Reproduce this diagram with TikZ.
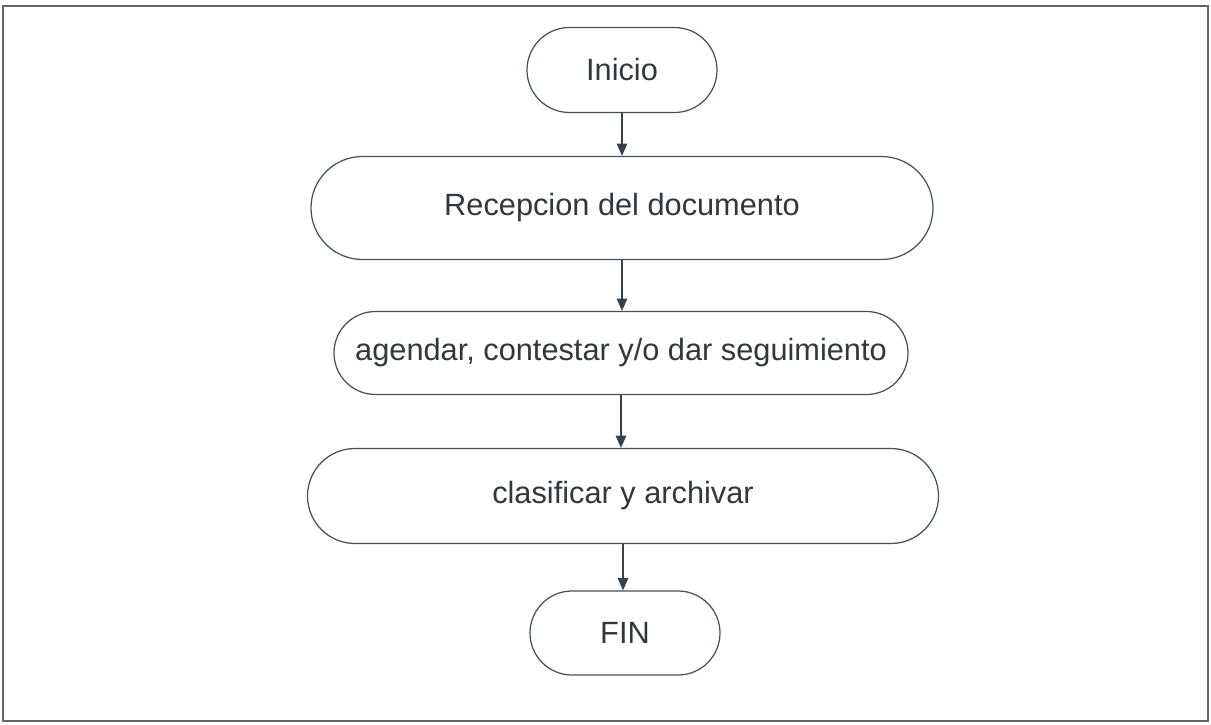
\documentclass[tikz,border=0pt]{standalone}
\usepackage{fontspec}
\setmainfont{Liberation Sans}
\usetikzlibrary{arrows.meta,shapes.misc}
\definecolor{edge}{RGB}{70,80,90}
\definecolor{txt}{RGB}{50,55,60}
\begin{document}
\begin{tikzpicture}[x=0.02cm,y=-0.02cm,
  term/.style={draw=edge,line width=0.7pt,rounded rectangle,inner sep=0pt,
    text=txt,font=\fontsize{17.5}{20}\selectfont},
  flow/.style={draw=edge!80!black,line width=0.7pt,-{Triangle[length=7pt,width=6pt]}}]
\useasboundingbox (0,0) rectangle (1211,724);
\draw[gray!80!black,line width=1pt] (3,6) rectangle (1208,721);
\node[term,minimum width=190*0.02cm,minimum height=85*0.02cm] (ini) at (622,70) {Inicio};
\node[term,minimum width=622*0.02cm,minimum height=103*0.02cm] (rec) at (622,208) {Recepcion del documento};
\node[term,minimum width=574*0.02cm,minimum height=83*0.02cm] (age) at (621,353) {agendar, contestar y/o dar seguimiento};
\node[term,minimum width=631*0.02cm,minimum height=95*0.02cm] (cla) at (623,496) {clasificar y archivar};
\node[term,minimum width=190*0.02cm,minimum height=84*0.02cm] (fin) at (625,633) {FIN};
\draw[flow] (ini.south) -- (ini.south |- rec.north);
\draw[flow] (rec.south) -- (rec.south |- age.north);
\draw[flow] (age.south) -- (age.south |- cla.north);
\draw[flow] (cla.south) -- (cla.south |- fin.north);
\end{tikzpicture}
\end{document}
